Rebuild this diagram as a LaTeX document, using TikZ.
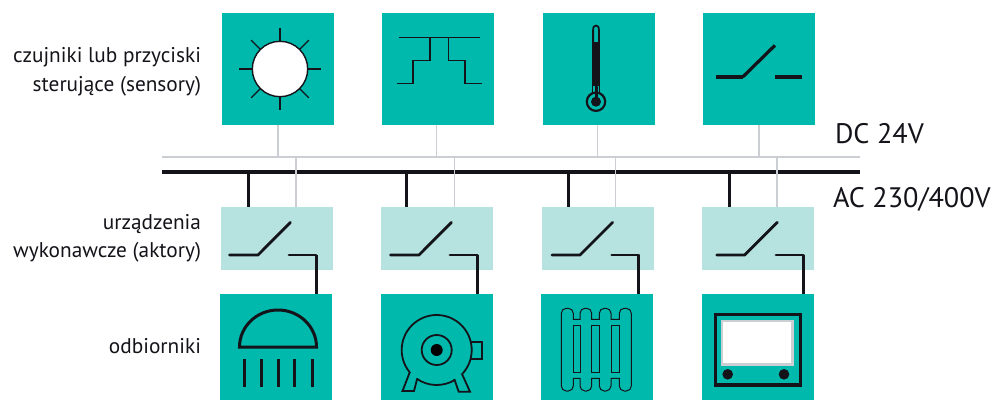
\documentclass[tikz,border=0pt]{standalone}
\usepackage{fontspec}
\setmainfont{PT Sans}
\definecolor{teal1}{HTML}{00B9AD}
\definecolor{mint1}{HTML}{B6E2DF}
\definecolor{grey1}{HTML}{CBCED2}
\definecolor{ink1}{HTML}{14131A}
\tikzset{
  sensorbox/.style={fill=teal1,minimum width=112pt,minimum height=112pt,inner sep=0pt,outer sep=0pt},
  loadbox/.style={fill=teal1,minimum width=112pt,minimum height=106pt,inner sep=0pt,outer sep=0pt},
  actbox/.style={fill=mint1,minimum width=112pt,minimum height=63pt,inner sep=0pt,outer sep=0pt},
  lab/.style={inner sep=0pt,outer sep=0pt,anchor=base east,text=ink1,font=\fontsize{21.3}{25}\selectfont},
  volt/.style={inner sep=0pt,outer sep=0pt,anchor=base west,text=ink1,font=\fontsize{28.2}{33}\selectfont},
  greyline/.style={draw=grey1,line width=1.5pt},
  blackline/.style={draw=ink1,line width=3pt},
  thin1/.style={draw=ink1,line width=1.4pt},
  contact/.style={draw=ink1,line width=2.8pt,line cap=round,line join=round},
}
\begin{document}
\begin{tikzpicture}[x=1pt,y=1pt,yscale=-1]
\useasboundingbox (0,0) rectangle (994,400);
% boxes
\node[sensorbox] (s1) at (278,69) {};
\node[sensorbox] (s2) at (438,69) {};
\node[sensorbox] (s3) at (599,69) {};
\node[sensorbox] (s4) at (759,69) {};
\node[actbox] (a1) at (277,238.5) {};
\node[actbox] (a2) at (437,238.5) {};
\node[actbox] (a3) at (598,238.5) {};
\node[actbox] (a4) at (758,238.5) {};
\node[loadbox] (l1) at (276,347) {};
\node[loadbox] (l2) at (437,347) {};
\node[loadbox] (l3) at (597,347) {};
\node[loadbox] (l4) at (758,347) {};
% buses
\coordinate (dcL) at (162,157);
\coordinate (dcR) at (859.5,157);
\coordinate (acL) at (162,172);
\coordinate (acR) at (859.5,172);
\draw[greyline,line width=1.8pt] (dcL) -- (dcR);
\draw[blackline,line width=3.4pt] (acL) -- (acR);
% sensor stubs
\foreach \n/\x in {1/278,2/436.7,3/597.7,4/759}{
  \coordinate (up\n) at (\x,157);
  \draw[greyline] (up\n |- s\n.south) -- (up\n);
}
% actuator stubs
\foreach \n/\g/\b in {1/296/248,2/454.3/406.7,3/615.7/568,4/777/729.3}{
  \coordinate (gc\n) at (\g,157);
  \coordinate (bc\n) at (\b,172);
  \draw[greyline] (gc\n) -- (gc\n |- a\n.north);
  \draw[blackline] (bc\n) -- (bc\n |- a\n.north);
}
% actuator contacts and output wires
\foreach \n/\a/\b/\c/\d/\e in {1/229.5/258/290.5/289/316,2/390.5/419/451.5/450/477.3,3/552/580/612.7/611.7/638.7,4/716.7/744.7/777.3/776/803.3}{
  \draw[contact] (\a,255) -- (\b,255) -- (\c,222.3);
  \draw[contact] (\d,255) -- (\e,255);
  \coordinate (out\n) at (\e,255);
  \draw[blackline,line cap=butt] (out\n) -- (out\n |- l\n.north);
}
% sun
\draw[thin1,fill=white] (280,69) circle (27.7);
\foreach \t in {0,90,180,270}{\draw[thin1] (280,69) ++(\t:28) -- ++(\t:13);}
\foreach \t in {45,135,225,315}{\draw[thin1] (280,69) ++(\t:27.5) -- ++(\t:13.2);}
% stepped symbol
\draw[thin1] (399.3,37.3) -- (480,37.3);
\draw[thin1,line join=miter] (396.7,83.7) -- (413,83.7) -- (413,60.3) -- (430,60.3) -- (430,37.3) -- (448.7,37.3) -- (448.7,60.3) -- (465,60.3) -- (465,83.7) -- (481.7,83.7);
% thermometer
\fill[ink1] (592.2,41.7) rectangle (599.9,86);
\draw[ink1,line width=1.8pt] (593.1,42) -- (593.1,30) .. controls (593.1,26.8) and (594.2,25.6) .. (596,25.6) .. controls (597.8,25.6) and (598.9,26.8) .. (598.9,30) -- (598.9,42);
\draw[ink1,line width=2.2pt,fill=teal1] (596,101.7) circle (9.2);
\draw[ink1,line width=1.1pt] (592.8,85) -- (592.8,93);
\draw[ink1,line width=1.1pt] (599.3,85) -- (599.3,93);
\fill[ink1] (594.5,85) rectangle (597.5,100);
\fill[ink1] (596,101.7) circle (5);
% sensor contact
\draw[ink1,line width=3.2pt] (716,77) -- (743,77);
\draw[ink1,line width=3.2pt] (742.7,77) -- (775,45.3);
\draw[ink1,line width=3.2pt] (775.3,77) -- (801.7,77);
% lamp
\draw[ink1,line width=3pt,line join=miter] (239.5,347) arc[start angle=180,end angle=360,x radius=38.5,y radius=37] -- cycle;
\foreach \x in {244.7,261.3,278,294.7,312.7}{\draw[ink1,line width=3pt] (\x,359) -- (\x,387);}
% motor
\draw[ink1,line width=1.8pt] (436.7,350) ++(141:35) arc[start angle=141,end angle=402,radius=35];
\draw[ink1,line width=1.8pt] (436.7,350) ++(124.4:35) arc[start angle=124.4,end angle=58.8,radius=35];
\draw[ink1,line width=1.8pt] (436.7,350) circle (15);
\fill[black] (436.7,350) circle (6);
\draw[ink1,line width=1.8pt,line join=miter] (470.7,341.7) -- (481.7,341.7) -- (481.7,359) -- (470.5,359);
\draw[ink1,line width=1.8pt,line join=miter] (410,371.7) -- (402.5,391) -- (414,391) -- (417.3,378.3);
\draw[ink1,line width=1.8pt,line join=miter] (461.7,373.3) -- (470,391.7) -- (458.7,391.7) -- (454.3,379);
% radiator
\draw[ink1,line width=1pt]
  (561.3,313.3) arc[start angle=180,end angle=270,radius=5] -- (568.3,308.3) arc[start angle=270,end angle=360,radius=5] -- (573.3,319.3)
  -- (580,319.3) -- (580,313.3) arc[start angle=180,end angle=270,radius=5] -- (586.7,308.3) arc[start angle=270,end angle=360,radius=5] -- (591.7,319.3)
  -- (599.3,319.3) -- (599.3,313.3) arc[start angle=180,end angle=270,radius=5] -- (606,308.3) arc[start angle=270,end angle=360,radius=5] -- (611,319.3)
  -- (619.3,319.3) -- (619.3,313.3) arc[start angle=180,end angle=270,radius=5] -- (626.3,308.3) arc[start angle=270,end angle=360,radius=5] -- (631.3,386)
  arc[start angle=0,end angle=90,radius=5] -- (624.3,391) arc[start angle=90,end angle=180,radius=5] -- (619.3,378.3)
  -- (611,378.3) -- (611,386) arc[start angle=0,end angle=90,radius=5] -- (604.3,391) arc[start angle=90,end angle=180,radius=5] -- (599.3,378.3)
  -- (591.7,378.3) -- (591.7,386) arc[start angle=0,end angle=90,radius=5] -- (585,391) arc[start angle=90,end angle=180,radius=5] -- (580,378.3)
  -- (573.3,378.3) -- (573.3,386) arc[start angle=0,end angle=90,radius=5] -- (566.3,391) arc[start angle=90,end angle=180,radius=5] -- cycle;
\foreach \p/\q in {573.3/580,591.7/599.3,611/619.3}{\draw[ink1,line width=1pt] (\p,325) rectangle (\q,372.3);}
% control panel
\draw[ink1,line width=3.2pt] (715.5,314.5) rectangle (800.5,385);
\draw[grey1,line width=2.2pt,fill=white] (722,321) rectangle (792.5,364.5);
\fill[ink1] (727.7,374.3) circle (5.3);
\fill[ink1] (784,374.3) circle (5.3);
% labels
\node[lab] (t1) at (201,62) {czujniki lub przyciski};
\node[lab] (t2) at (201,91) {sterujące (sensory)};
\node[lab] (t3) at (201,229) {urządzenia};
\node[lab] (t4) at (201,257) {wykonawcze (aktory)};
\node[lab] (t5) at (201,353) {odbiorniki};
\node[volt] (v1) at (835,143) {DC 24V};
\node[volt] (v2) at (833,207) {AC 230/400V};
\end{tikzpicture}
\end{document}
